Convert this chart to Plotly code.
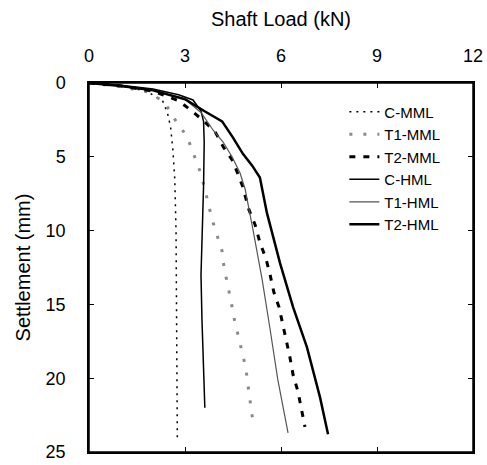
import plotly.graph_objects as go

# Shaft load (kN) vs settlement (mm)
c_mml_load = [0, 1.0, 1.8, 2.3, 2.45, 2.55, 2.62, 2.68, 2.72, 2.74, 2.76, 2.76]
c_mml_sett = [0, 0.2, 0.55, 1.2, 2.0, 3.0, 4.5, 6.5, 10.0, 15.0, 20.0, 24.0]

t1_mml_load = [0, 1.0, 1.8, 2.3, 2.47, 2.75, 3.06, 3.25, 3.44, 3.6, 3.72, 3.84, 4.0, 4.16,
               4.22, 4.34, 4.44, 4.53, 4.66, 4.78, 4.9, 4.97, 5.03, 5.12]
t1_mml_sett = [0, 0.25, 0.6, 1.2, 1.7, 2.7, 3.6, 4.7, 5.8, 7.0, 8.1, 9.2, 10.3, 11.4,
               12.5, 13.7, 14.8, 15.9, 17.1, 18.3, 19.3, 20.5, 21.6, 22.9]

t2_mml_load = [0, 1.0, 2.0, 2.8, 3.16, 3.6, 3.94, 4.19, 4.5, 4.8, 5.0, 5.19, 5.34, 5.53,
               5.66, 5.78, 5.94, 6.06, 6.19, 6.28, 6.38, 6.53, 6.63, 6.75]
t2_mml_sett = [0, 0.2, 0.55, 1.2, 1.8, 2.6, 3.3, 4.3, 5.3, 7.0, 8.6, 9.6, 10.8, 11.9,
               13.0, 14.2, 15.2, 16.4, 17.5, 18.6, 19.8, 20.9, 22.0, 23.3]

c_hml_load = [0, 1.0, 2.0, 2.8, 3.25, 3.5, 3.58, 3.6, 3.58, 3.55, 3.5, 3.53, 3.58, 3.62]
c_hml_sett = [0, 0.15, 0.4, 0.8, 1.15, 1.9, 2.6, 4.0, 7.0, 10.0, 13.0, 16.0, 19.0, 22.0]

t1_hml_load = [0, 1.0, 2.0, 3.0, 3.5, 3.88, 4.19, 4.47, 4.72, 4.88, 5.13, 5.41, 5.66, 5.9, 6.22]
t1_hml_sett = [0, 0.2, 0.5, 1.1, 2.0, 3.2, 4.0, 5.0, 6.1, 7.2, 10.0, 13.3, 16.7, 20.1, 23.7]

t2_hml_load = [0, 1.0, 2.0, 3.0, 3.6, 4.16, 4.5, 4.81, 5.1, 5.34, 5.56, 5.97, 6.38, 6.81, 7.22, 7.47]
t2_hml_sett = [0, 0.2, 0.5, 1.1, 1.9, 2.6, 3.7, 4.8, 5.6, 6.4, 8.8, 12.2, 15.2, 17.9, 21.3, 23.8]

x_ticks = [0, 3, 6, 9, 12]
y_ticks = [0, 5, 10, 15, 20, 25]

FONT = "Liberation Sans, Arial, sans-serif"

fig = go.Figure()
fig.add_trace(go.Scatter(x=c_mml_load, y=c_mml_sett, mode="lines", name="C-MML",
                         line=dict(color="black", width=1.5, dash="2px,5px")))
fig.add_trace(go.Scatter(x=t1_mml_load, y=t1_mml_sett, mode="lines", name="T1-MML",
                         line=dict(color="#8a8a8a", width=3, dash="3px,11px")))
fig.add_trace(go.Scatter(x=t2_mml_load, y=t2_mml_sett, mode="lines", name="T2-MML",
                         line=dict(color="black", width=3, dash="6px,8px")))
fig.add_trace(go.Scatter(x=c_hml_load, y=c_hml_sett, mode="lines", name="C-HML",
                         line=dict(color="black", width=1.5)))
fig.add_trace(go.Scatter(x=t1_hml_load, y=t1_hml_sett, mode="lines", name="T1-HML",
                         line=dict(color="#555555", width=1.2)))
fig.add_trace(go.Scatter(x=t2_hml_load, y=t2_hml_sett, mode="lines", name="T2-HML",
                         line=dict(color="black", width=2.5)))

fig.update_layout(
    width=487, height=465,
    margin=dict(l=89, r=14, t=83, b=13),
    paper_bgcolor="white", plot_bgcolor="white",
    font=dict(family=FONT, size=18, color="black"),
    showlegend=True,
    legend=dict(x=0.665, y=0.966, xanchor="left", yanchor="top",
                bgcolor="rgba(0,0,0,0)", font=dict(size=15, family=FONT)),
    xaxis=dict(range=[0, 12], side="top", tickvals=x_ticks, automargin=False,
               title=dict(text="Shaft Load (kN)", font=dict(size=20), standoff=14),
               showline=True, linecolor="black", linewidth=1.5, mirror="ticks",
               ticks="inside", ticklen=5, tickcolor="black",
               showgrid=False, zeroline=False, ticklabelstandoff=12),
    yaxis=dict(range=[25, 0], tickvals=y_ticks, automargin=False,
               title=dict(text="Settlement (mm)", font=dict(size=20), standoff=10),
               showline=True, linecolor="black", linewidth=1.5, mirror="ticks",
               ticks="inside", ticklen=5, tickcolor="black",
               showgrid=False, zeroline=False, ticklabelstandoff=18),
    shapes=[dict(type="rect", xref="paper", yref="paper", x0=0, x1=1, y0=0, y1=1,
                 line=dict(color="black", width=1.5), fillcolor="rgba(0,0,0,0)",
                 layer="above")],
)

# remove the page's default body margin so the 487x465 figure fills the window
fig.write_html("out.html",
               config={"displayModeBar": False},
               post_script="document.body.style.margin='0';document.body.style.overflow='hidden';")
